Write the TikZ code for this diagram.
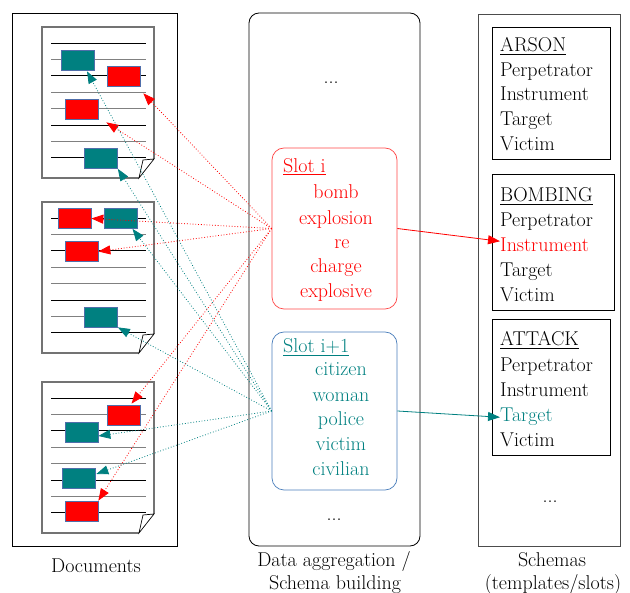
\documentclass[tikz,border=0pt]{standalone}
\usetikzlibrary{arrows.meta,calc}
\definecolor{slotred}{RGB}{255,70,70}
\definecolor{slotblue}{RGB}{74,126,187}
\definecolor{blkedge}{RGB}{79,110,170}
\tikzset{
  lbl/.style={inner sep=0pt, anchor=base},
  word/.style={inner sep=0pt, anchor=base west},
  redblk/.style={draw=blkedge, line width=0.7pt, fill=red, minimum width=33pt, minimum height=20pt, inner sep=0pt},
  tealblk/.style={redblk, fill=teal},
  slotbox/.style={draw, rounded corners=12pt, line width=0.7pt, minimum width=125pt, inner sep=0pt},
  redlink/.style={red, dotted, line width=0.8pt, -{Triangle[length=12pt,width=9pt]}},
  teallink/.style={teal, dotted, line width=0.8pt, -{Triangle[length=12pt,width=9pt]}},
  fill link/.style={line width=0.8pt, -{Triangle[length=12pt,width=9pt]}}
}
\begin{document}
\begin{tikzpicture}[x=1pt, y=-1pt, font=\fontsize{20}{25}\selectfont]
\useasboundingbox (0,0) rectangle (630,593);
\draw[line width=0.8pt] (12,13) rectangle (177,546);\draw[line width=0.8pt, rounded corners=10pt] (249,13) rectangle (420,546);\draw[black!70, line width=0.8pt] (478,14) rectangle (620,546);
\foreach \t in {27,202,382}{
  \draw[black!55, line width=1.2pt] (154,\t+132) -- (154,\t) -- (42,\t) -- (42,\t+151) -- (139,\t+151);
  \draw[line width=0.7pt] (154,\t+132) -- (139,\t+151) -- (143,\t+133) -- cycle;
  \foreach \i/\c in {0/black,1/black!50,2/black,3/black!50,4/black!50,5/black,6/black!50,7/black}
    \draw[\c, line width=0.9pt] (51,\t+16+\i*16.4) -- (146,\t+16+\i*16.4);
}
\node[tealblk] (tealA) at (78,60) {};\node[redblk] (redA) at (123.5,76) {};\node[redblk] (redB) at (81.5,109) {};\node[tealblk] (tealB) at (101,158.5) {};
\node[redblk] (redC) at (74.5,218.5) {};\node[tealblk] (tealC) at (120.5,218.5) {};\node[redblk] (redD) at (81.5,251.5) {};\node[tealblk] (tealD) at (101,317) {};
\node[redblk] (redE) at (123.5,415) {};\node[tealblk] (tealE) at (81.5,432) {};\node[tealblk] (tealF) at (78.5,478) {};\node[redblk] (redF) at (81.5,511) {};
\node[slotbox, draw=slotred, minimum height=161pt] (sloti) at (334.5,228.5) {};
\node[slotbox, draw=slotblue, minimum height=158pt] (slotj) at (334.5,411) {};
\node[word, red] (slotiHead) at (283,172.5) {\underline{Slot i}};
\foreach \w/\y in {bomb/199,explosion/225,charge/273,explosive/298} \node[lbl, red] (sloti-\y) at (336,\y) {\w};
\node[lbl, red] (sloti-re) at (342,249) {re};
\node[word, teal] (slotjHead) at (283,353) {\underline{Slot i+1}};
\foreach \w/\y in {citizen/376,woman/402,police/426,victim/451,civilian/476} \node[lbl, teal] (slotj-\y) at (341,\y) {\w};
\node[lbl] (aggTop) at (331,84) {...};\node[lbl] (aggBottom) at (334,521) {...};\node[lbl] (schemaDots) at (550,503) {...};
\draw[line width=0.8pt] (492,27) rectangle (610,159);\draw[line width=0.8pt] (492,174) rectangle (614,310);\draw[line width=0.8pt] (492,319) rectangle (610,455);
\node[word] (arsonHead) at (500,52) {\underline{ARSON}};
\foreach \r/\y in {Perpetrator/77,Instrument/101,Target/126,Victim/151} \node[word] (arson-\y) at (500,\y) {\r};
\node[word] (bombHead) at (500,202) {\underline{BOMBING}};
\node[word] (bombPerp) at (500,227) {Perpetrator};\node[word, red] (bombInst) at (500,252) {Instrument};\node[word] (bombTarget) at (500,277) {Target};\node[word] (bombVictim) at (500,302) {Victim};
\node[word] (attackHead) at (500,346) {\underline{ATTACK}};
\node[word] (attackPerp) at (500,372) {Perpetrator};\node[word] (attackInst) at (500,397) {Instrument};\node[word, teal] (attackTarget) at (500,422) {Target};\node[word] (attackVictim) at (500,447) {Victim};
\node[lbl] (docLabel) at (96,573) {Documents};
\node[lbl] (aggLabel) at (334,567) {Data aggregation /};\node[lbl] (aggLabelB) at (335,590) {Schema building};
\node[lbl] (schemaLabel) at (552,567) {Schemas};\node[lbl] (schemaLabelB) at (553,590) {(templates/slots)};
\draw[redlink] (sloti.west) -- ($(redA.south east)+(3,7)$);\draw[redlink] (sloti.west) -- ($(redB.south east)+(8,3)$);\draw[redlink] (sloti.west) -- (redC.east);
\draw[redlink] (sloti.west) -- (redD.east);\draw[redlink] (sloti.west) -- ($(redE.north)+(8,-1)$);\draw[redlink] (sloti.west) -- (redF.north east);
\draw[teallink] (slotj.west) -- ($(tealA.south)+(9,1)$);\draw[teallink] (slotj.west) -- (tealB.south east);\draw[teallink] (slotj.west) -- ($(tealC.south)+(12,0)$);
\draw[teallink] (slotj.west) -- (tealD.south east);\draw[teallink] (slotj.west) -- ($(tealE.east)+(0,4)$);\draw[teallink] (slotj.west) -- ($(tealF.east)+(1,-4)$);
\draw[fill link, red] (sloti.east) -- ($(bombInst.west)+(0,-4)$);
\draw[fill link, teal] (slotj.east) -- (attackTarget.west);
\end{tikzpicture}
\end{document}
